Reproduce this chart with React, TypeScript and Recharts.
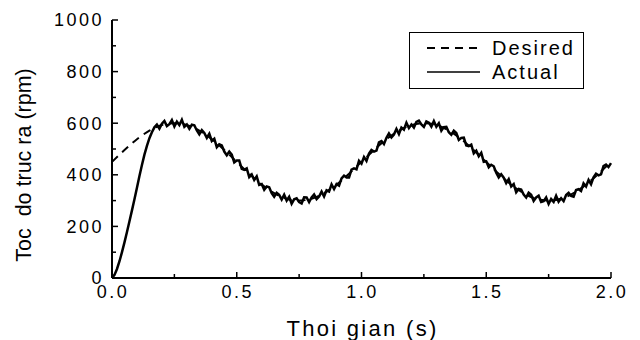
import { LineChart, Line, XAxis, YAxis, Legend } from 'recharts'

const X_TICKS = [0, 0.25, 0.5, 0.75, 1, 1.25, 1.5, 1.75, 2]
const X_LABELED = [0, 0.5, 1, 1.5, 2]
const Y_TICKS = [0, 100, 200, 300, 400, 500, 600, 700, 800, 900, 1000]
const Y_LABELED = [0, 200, 400, 600, 800, 1000]

// desired speed, sampled every 0.05 s
const DESIRED_STEP = 0.05
const DESIRED = [
  450, 496, 538, 571, 593, 600, 593, 571, 538, 496,
  450, 404, 362, 329, 307, 300, 307, 329, 362, 404,
  450, 496, 538, 571, 593, 600, 593, 571, 538, 496,
  450, 404, 362, 329, 307, 300, 307, 329, 362, 404,
  450,
]

// measured speed, sampled every 0.01 s
const ACTUAL_STEP = 0.01
const ACTUAL = [
  0, 12, 35, 65, 100, 138, 178, 220, 262, 305,
  350, 395, 438, 478, 512, 542, 565, 584, 595, 579,
  598, 609, 589, 596, 612, 587, 606, 593, 613, 586,
  595, 578, 594, 592, 572, 557, 573, 562, 543, 559,
  531, 540, 507, 518, 514, 490, 476, 490, 478, 448,
  455, 455, 423, 419, 425, 391, 401, 380, 394, 361,
  364, 342, 355, 352, 329, 315, 330, 322, 304, 323,
  300, 315, 288, 305, 309, 294, 289, 313, 312, 294,
  312, 324, 306, 316, 335, 316, 340, 335, 363, 345,
  364, 358, 386, 397, 390, 390, 420, 425, 421, 454,
  443, 469, 454, 482, 496, 490, 494, 526, 531, 519,
  543, 560, 545, 556, 578, 558, 583, 575, 602, 581,
  595, 583, 605, 610, 595, 586, 607, 602, 587, 608,
  586, 600, 571, 585, 586, 565, 555, 571, 562, 535,
  543, 544, 514, 511, 517, 483, 493, 472, 485, 450,
  452, 429, 439, 433, 408, 390, 402, 389, 368, 383,
  355, 364, 332, 345, 343, 323, 312, 331, 323, 299,
  312, 319, 295, 298, 312, 287, 306, 295, 319, 296,
  309, 298, 322, 330, 318, 315, 341, 344, 337, 367,
  355, 380, 363, 390, 404, 398, 402, 434, 440, 430,
  445,
]

const desiredData = DESIRED.map((v, i) => ({ t: +(i * DESIRED_STEP).toFixed(2), v }))
const actualData = ACTUAL.map((v, i) => ({ t: +(i * ACTUAL_STEP).toFixed(2), v }))

const FONT = '"Liberation Sans", Arial, sans-serif'
const AXIS_LINE = { stroke: '#000', strokeWidth: 2 }

function AxisTick(props: any) {
  const { x, y, payload, side } = props
  const v = payload.value
  const isX = side === 'bottom' || side === 'top'
  const major = (isX ? X_LABELED : Y_LABELED).includes(v)
  const len = major ? 6 : 4
  let line
  if (side === 'left') line = <line x1={x} y1={y} x2={x + len} y2={y} />
  else if (side === 'right') line = <line x1={x} y1={y} x2={x - len} y2={y} />
  else if (side === 'bottom') line = <line x1={x} y1={y} x2={x} y2={y - len} />
  else line = <line x1={x} y1={y} x2={x} y2={y + len} />

  let label = null
  if (major && side === 'left') {
    label = (
      <text x={x - 8} y={y} dy="0.36em" textAnchor="end" fontSize={18} letterSpacing={2.5} fill="#000" stroke="none" fontFamily={FONT}>
        {v}
      </text>
    )
  } else if (major && side === 'bottom') {
    label = (
      <text x={x + 1} y={y + 20} textAnchor="middle" fontSize={18} letterSpacing={2.5} fill="#000" stroke="none" fontFamily={FONT}>
        {v.toFixed(1)}
      </text>
    )
  }
  return (
    <g stroke="#000" strokeWidth={1.5}>
      {line}
      {label}
    </g>
  )
}

function XTitle({ viewBox }: any) {
  const { x, y, width } = viewBox
  return (
    <text x={x + width / 2 + 1} y={y + 58} textAnchor="middle" fontSize={22} letterSpacing={2.3} fill="#000" fontFamily={FONT}>
      Thoi gian (s)
    </text>
  )
}

function YTitle({ viewBox }: any) {
  const { y, height } = viewBox
  const cx = 31
  const cy = y + height / 2 + 16
  return (
    <text x={cx} y={cy} transform={`rotate(-90 ${cx} ${cy})`} textAnchor="middle" fontSize={21.5} fill="#000" fontFamily={FONT} style={{ whiteSpace: 'pre' }}>
      {'Toc  do truc ra (rpm)'}
    </text>
  )
}

function LegendBox() {
  return (
    <svg width={175} height={57} style={{ display: 'block' }}>
      <rect x={0.5} y={0.5} width={174} height={56} fill="#fff" stroke="#000" strokeWidth={1} />
      <line x1={18} y1={16} x2={71} y2={16} stroke="#000" strokeWidth={2} strokeDasharray="8 6" />
      <text x={83} y={23} fontSize={20} letterSpacing={2} fontFamily={FONT} fill="#000">Desired</text>
      <line x1={18} y1={40} x2={71} y2={40} stroke="#000" strokeWidth={1.5} />
      <text x={83} y={47} fontSize={20} letterSpacing={2} fontFamily={FONT} fill="#000">Actual</text>
    </svg>
  )
}

export default function App() {
  return (
    <div style={{ position: 'absolute', left: 0, top: 0, background: '#fff' }}>
      <LineChart width={640} height={340} margin={{ top: 20, right: 29, bottom: 0, left: 0 }}>
        <XAxis
          dataKey="t"
          type="number"
          domain={[0, 2]}
          ticks={X_TICKS}
          interval={0}
          height={62}
          tickSize={0}
          tickMargin={0}
          axisLine={AXIS_LINE}
          tick={(p: any) => <AxisTick {...p} side="bottom" />}
          label={<XTitle />}
        />
        <XAxis
          xAxisId="top"
          orientation="top"
          dataKey="t"
          type="number"
          domain={[0, 2]}
          ticks={X_TICKS}
          interval={0}
          height={0}
          tickSize={0}
          tickMargin={0}
          axisLine={AXIS_LINE}
          tick={(p: any) => <AxisTick {...p} side="top" />}
        />
        <YAxis
          type="number"
          domain={[0, 1000]}
          ticks={Y_TICKS}
          interval={0}
          width={112}
          tickSize={0}
          tickMargin={0}
          axisLine={AXIS_LINE}
          tick={(p: any) => <AxisTick {...p} side="left" />}
          label={<YTitle />}
        />
        <YAxis
          yAxisId="right"
          orientation="right"
          type="number"
          domain={[0, 1000]}
          ticks={Y_TICKS}
          interval={0}
          width={0}
          tickSize={0}
          tickMargin={0}
          axisLine={AXIS_LINE}
          tick={(p: any) => <AxisTick {...p} side="right" />}
        />
        <Legend
          layout="vertical"
          align="center"
          verticalAlign="middle"
          wrapperStyle={{ left: 409, top: 32, width: 175, height: 57 }}
          content={<LegendBox />}
        />
        <Line
          data={desiredData}
          dataKey="v"
          name="Desired"
          type="monotone"
          stroke="#000"
          strokeWidth={2}
          strokeDasharray="8 6"
          dot={false}
          isAnimationActive={false}
        />
        <Line
          data={actualData}
          dataKey="v"
          name="Actual"
          type="linear"
          stroke="#000"
          strokeWidth={2.5}
          dot={false}
          isAnimationActive={false}
        />
      </LineChart>
    </div>
  )
}
